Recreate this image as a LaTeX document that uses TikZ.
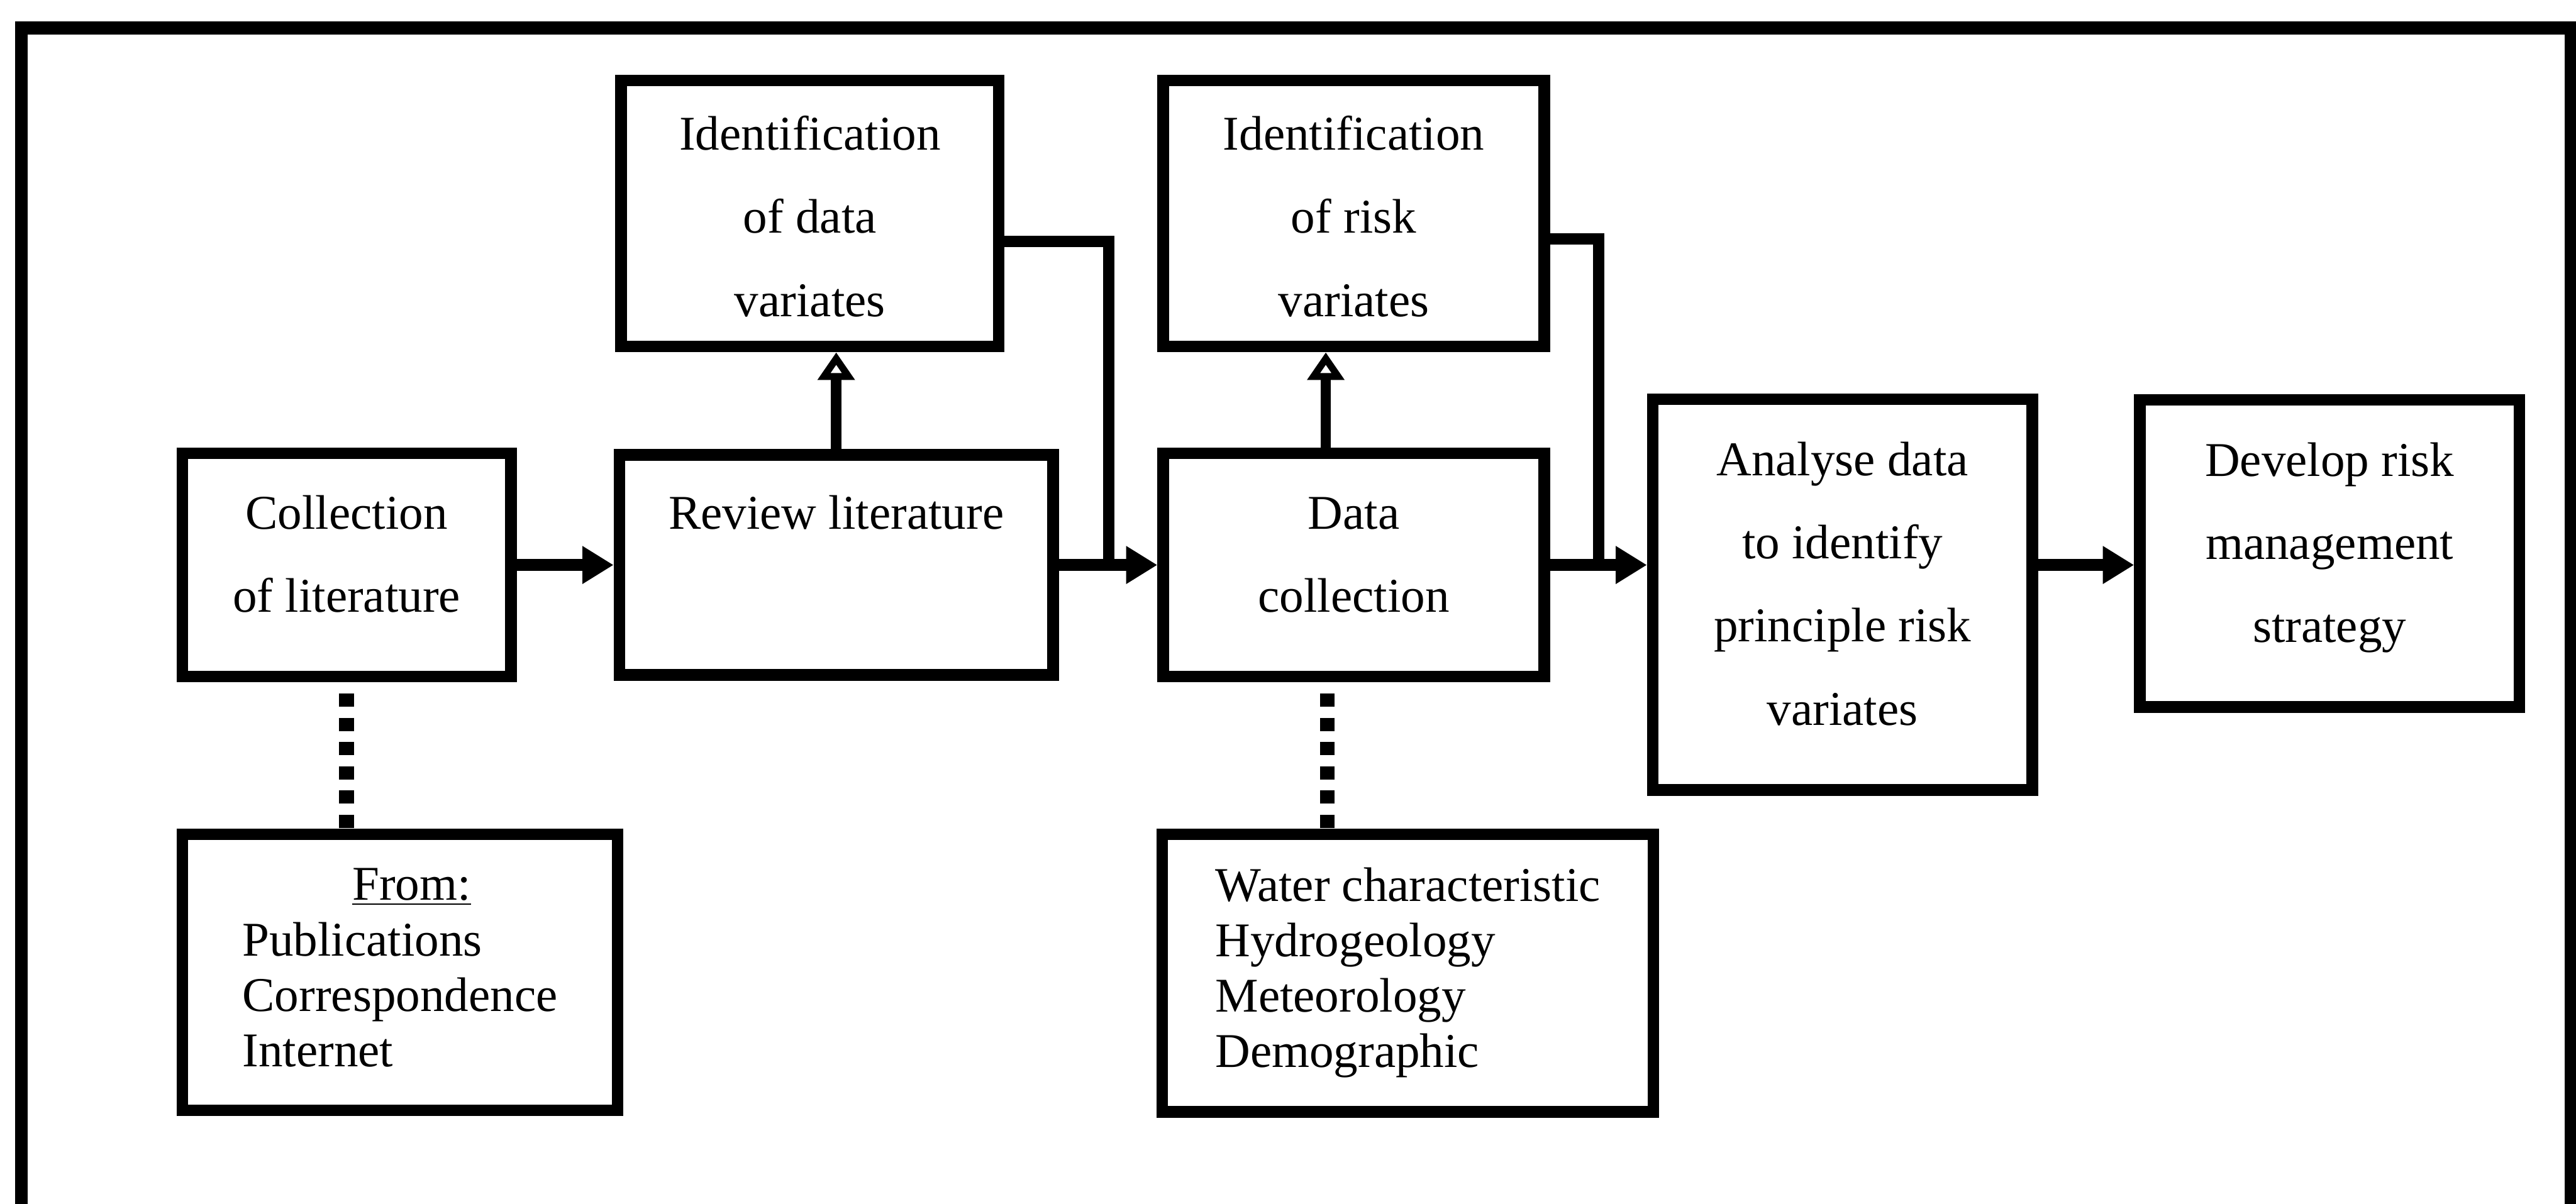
\documentclass[tikz,border=0pt]{standalone}
\usepackage{fontspec}
\setmainfont{Liberation Serif}
\usetikzlibrary{arrows.meta,calc}
\begin{document}
\begin{tikzpicture}[x=0.25mm,y=-0.25mm,
  mainbox/.style={draw, line width=5pt, rectangle, align=center, inner sep=0pt,
    font=\fontsize{21pt}{36pt}\selectfont},
  linestwo/.style={text height=51pt, text depth=10pt},
  linesthree/.style={text height=87pt, text depth=10pt},
  linesfour/.style={text height=123pt, text depth=10pt},
  idlines/.style={text height=93pt, text depth=4pt},
  listbox/.style={draw, line width=5pt, rectangle, inner sep=0pt,
    font=\fontsize{21pt}{24pt}\selectfont},
  flowarrow/.style={line width=5pt, -{Triangle[length=13.5pt,width=15.5pt]}},
  joinline/.style={line width=5pt},
  stemarrow/.style={line width=4.5pt, -{Triangle[length=12pt,width=15.5pt,fill=white,line width=3pt]}},
  dotline/.style={line width=6.4pt, dash pattern=on 5.7pt off 4.8pt, dash phase=5.7pt},
  outerframe/.style={line width=5.5pt, line join=miter}]
\useasboundingbox (0,0) rectangle (1568,733);

% outer frame (open at the bottom)
\draw[outerframe] (13,760) -- (13,17) -- (1565,17) -- (1565,760);

% main boxes
\node[mainbox, linestwo, minimum width=50mm, minimum height=34mm] (coll) at (211,344) {Collection\\of literature};
\node[mainbox, linestwo, minimum width=66mm, minimum height=33.5mm] (rev) at (509,344) {Review literature\\\mbox{}};
\node[mainbox, idlines, minimum width=57.5mm, minimum height=40.5mm] (idd) at (493,130) {Identification\\of data\\variates};
\node[mainbox, linestwo, minimum width=58mm, minimum height=34mm] (dc) at (824,344) {Data\\collection};
\node[mainbox, idlines, minimum width=58mm, minimum height=40.5mm] (idr) at (824,130) {Identification\\of risk\\variates};
\node[mainbox, linesfour, minimum width=57.75mm, minimum height=59.5mm] (an) at (1121.5,362) {Analyse data\\to identify\\principle risk\\variates};
\node[mainbox, linesthree, minimum width=57.75mm, minimum height=46.75mm] (dev) at (1418,337) {Develop risk\\management\\strategy};

% list boxes
\node[listbox, minimum width=66.25mm, minimum height=42mm] (src) at (243.5,592)
  {\begin{tabular}{@{}l@{}}\multicolumn{1}{@{}c@{}}{\hspace{10pt}\underline{From:}}\\ Publications\\ Correspondence\\ Internet\end{tabular}};
\node[listbox, minimum width=74.75mm, minimum height=42.25mm] (wat) at (857,592.5)
  {\begin{tabular}{@{}l@{}}Water characteristic\\ Hydrogeology\\ Meteorology\\ Demographic\end{tabular}};

% junction points
\coordinate (j1) at (675,344);
\coordinate (j2) at (973,344);
\coordinate (s2) at ($(dc.north)+(-17,0)$);
\coordinate (d2) at ($(dc.south)+(-16,0)$);

% flow arrows
\draw[flowarrow] (coll) -- (rev);
\draw[flowarrow] (rev.east) -- (dc.west);
\draw[flowarrow] (dc.east) -- (dc.east -| an.west);
\draw[flowarrow] (an.east |- dc.east) -- (dev.west |- dc.east);

% feedback lines from identification boxes
\draw[joinline] ($(idd.east)+(0,17)$) -| (j1);
\draw[joinline] ($(idr.east)+(0,15.5)$) -| (j2);

% upward open arrows
\draw[stemarrow] (rev.north) -- (rev.north |- idd.south);
\draw[stemarrow] (s2) -- (s2 |- idr.south);

% dotted links
\draw[dotline] (coll.south) -- (coll.south |- src.north);
\draw[dotline] (d2) -- (d2 |- wat.north);
\end{tikzpicture}
\end{document}
